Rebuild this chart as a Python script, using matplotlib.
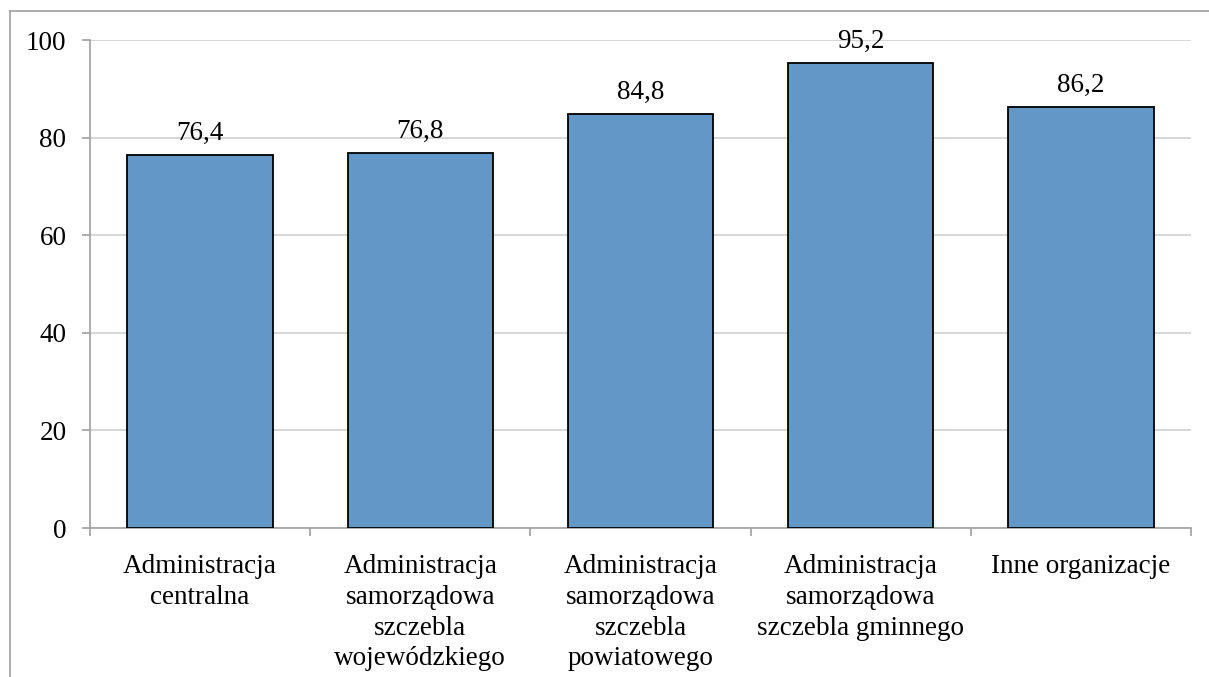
import numpy as np
import matplotlib.pyplot as plt
from matplotlib.lines import Line2D

categories = ['Administracja\ncentralna',
              'Administracja\nsamorządowa\nszczebla\nwojewódzkiego',
              'Administracja\nsamorządowa\nszczebla\npowiatowego',
              'Administracja\nsamorządowa\nszczebla gminnego',
              'Inne organizacje']
values = [76.4, 76.8, 84.8, 95.2, 86.2]
yticks = [0, 20, 40, 60, 80, 100]

plt.rcParams['font.family'] = ['Liberation Serif', 'DejaVu Serif']
fs = 19.5

fig = plt.figure(figsize=(12.09, 6.77), dpi=100)
ax = fig.add_axes([90 / 1209, 1 - 528 / 677, (1191 - 90) / 1209, (528 - 40) / 677])

x = np.arange(len(values))
ax.bar(x, values, width=0.66, color='#6397c7', edgecolor='black', linewidth=1.3, zorder=3)
for xi, v in zip(x, values):
    ax.text(xi, v + 2.0, f'{v:.1f}'.replace('.', ','), ha='center', va='bottom', fontsize=fs)

ax.set_xlim(-0.5, len(values) - 0.5)
ax.set_ylim(0, 100)
ax.set_yticks(yticks)
ax.set_yticklabels([str(t) for t in yticks], fontsize=fs)
ax.yaxis.grid(True, color='#d0d0d0', linewidth=1.2, zorder=0)

ax.set_xticks(np.arange(len(values) + 1) - 0.5)
ax.set_xticklabels([])
ax.set_xticks(x, minor=True)
ax.set_xticklabels(categories, minor=True, fontsize=fs, linespacing=1.3)
ax.tick_params(axis='x', which='minor', length=0, pad=19)
ax.tick_params(axis='x', which='major', length=6, color='#a0a0a0', width=1.2)
ax.tick_params(axis='y', length=6, color='#a0a0a0', width=1.2, pad=11)

for s in ['top', 'right']:
    ax.spines[s].set_visible(False)
for s in ['left', 'bottom']:
    ax.spines[s].set_color('#a0a0a0')
    ax.spines[s].set_linewidth(1.2)

# outer chart frame (only left and top visible)
fig.add_artist(Line2D([10 / 1209, 10 / 1209], [0, 1 - 11 / 677], transform=fig.transFigure,
                      color='#a0a0a0', linewidth=1.2))
fig.add_artist(Line2D([10 / 1209, 1], [1 - 11 / 677, 1 - 11 / 677], transform=fig.transFigure,
                      color='#a0a0a0', linewidth=1.2))

fig.savefig('out.png', dpi=100)
